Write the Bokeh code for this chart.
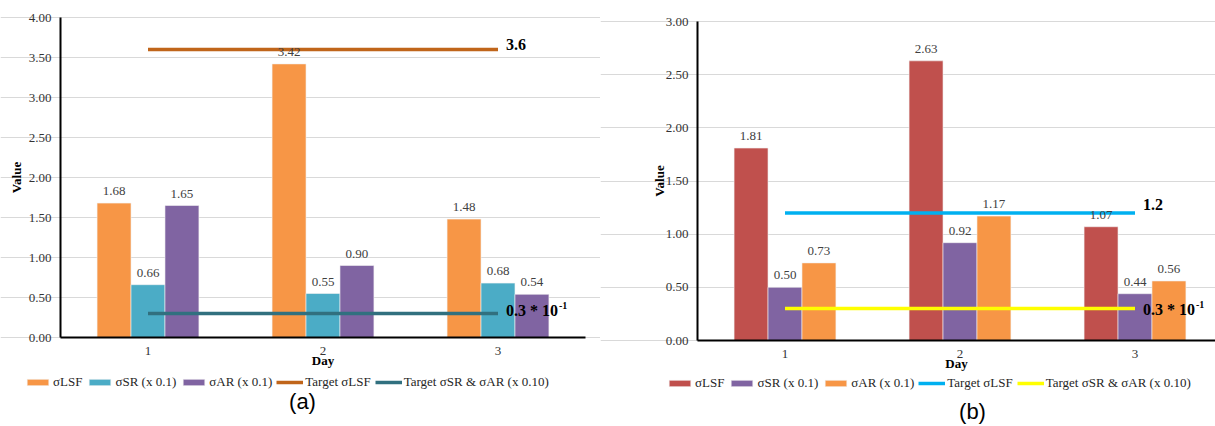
from bokeh.plotting import figure
from bokeh.layouts import row
from bokeh.models import (ColumnDataSource, FixedTicker, NumeralTickFormatter, Legend,
                          LegendItem, LabelSet, Label, Range1d)
from bokeh.core.properties import value
from bokeh.embed import file_html
from bokeh.resources import INLINE

days = [1, 2, 3]
day_labels = {1: "1", 2: "2", 3: "3"}
y_ticks_a = [0, 0.5, 1.0, 1.5, 2.0, 2.5, 3.0, 3.5, 4.0]
y_ticks_b = [0, 0.5, 1.0, 1.5, 2.0, 2.5, 3.0]

series_names = ["σLSF", "σSR (x 0.1)", "σAR (x 0.1)"]
a_lsf = [1.68, 3.42, 1.48]
a_sr = [0.66, 0.55, 0.68]
a_ar = [1.65, 0.90, 0.54]
a_target_lsf = 3.6
a_target_sr_ar = 0.3

b_lsf = [1.81, 2.63, 1.07]
b_sr = [0.50, 0.92, 0.44]
b_ar = [0.73, 1.17, 0.56]
b_target_lsf = 1.2
b_target_sr_ar = 0.3

target_names = ["Target σLSF", "Target σSR & σAR (x 0.10)"]

SERIF = "Liberation Serif"
BAR_W = 0.194
FIG_H = 424
CAT_PX = 175.0


def make_panel(width, axis_px, top_px, zero_px, y_top, yticks, series, colors, targets,
               target_colors, target_texts, caption, caption_px, legend_xy, ylabel_standoff,
               clip_right):
    # frame covers whole figure; axis_px is y-axis position measured from figure left
    x_start = 0.5 - axis_px / CAT_PX
    x_end = x_start + width / CAT_PX
    px_per_unit = (zero_px - top_px) / y_top
    y_end = y_top + top_px / px_per_unit
    y_start = -(FIG_H - zero_px) / px_per_unit
    x_stop = 3.5 if clip_right else x_end

    p = figure(width=width, height=FIG_H, output_backend="svg", toolbar_location=None,
               x_range=Range1d(x_start, x_end), y_range=Range1d(y_start, y_end),
               min_border=0)
    p.outline_line_color = None
    p.background_fill_color = "white"
    p.border_fill_color = "white"
    p.xgrid.grid_line_color = None
    p.ygrid.grid_line_color = "#D9D9D9"
    p.ygrid.grid_line_width = 1
    p.ygrid.ticker = FixedTicker(ticks=yticks)
    p.ygrid.bounds = (0.5, x_stop)

    p.yaxis.ticker = FixedTicker(ticks=yticks)
    p.yaxis.formatter = NumeralTickFormatter(format="0.00")
    p.yaxis.bounds = (0, y_top)
    p.yaxis.fixed_location = 0.5
    p.xaxis.ticker = FixedTicker(ticks=days)
    p.xaxis.major_label_overrides = day_labels
    p.xaxis.fixed_location = 0
    p.xaxis.bounds = (0.5, x_stop)
    for ax in (p.xaxis, p.yaxis):
        ax.axis_line_color = "black"
        ax.axis_line_width = 2
        ax.major_tick_line_color = None
        ax.minor_tick_line_color = None
        ax.major_tick_out = 0
        ax.major_tick_in = 0
        ax.major_label_text_font = SERIF
        ax.major_label_text_font_size = "13px"
        ax.major_label_text_color = "#333333"
        ax.axis_label_text_font = SERIF
        ax.axis_label_text_font_size = "13px"
        ax.axis_label_text_font_style = "bold"
        ax.axis_label_text_color = "black"
    p.yaxis.axis_label = "Value"
    p.yaxis.major_label_standoff = 9
    p.yaxis.axis_label_standoff = ylabel_standoff
    p.xaxis.axis_label = "Day"
    p.xaxis.major_label_standoff = 9
    p.xaxis.axis_label_standoff = -5

    items = []
    offsets = [-BAR_W, 0, BAR_W]
    for vals, col, off, name in zip(series, colors, offsets, series_names):
        src = ColumnDataSource(dict(x=[d + off for d in days], top=vals,
                                    lab=["%.2f" % v for v in vals]))
        r = p.vbar(x="x", top="top", bottom=0, width=BAR_W, source=src, fill_color=col,
                   line_color="#F2F2F2", line_width=0.6)
        items.append(LegendItem(label=name, renderers=[r]))
        ls = LabelSet(x="x", y="top", text="lab", source=src, text_align="center",
                      text_baseline="bottom", y_offset=8, text_font=value(SERIF),
                      text_font_size="13px", text_color="#404040")
        p.add_layout(ls)

    for tval, tcol, ttxt, tname in zip(targets, target_colors, target_texts, target_names):
        r = p.line(x=[days[0], days[-1]], y=[tval, tval], line_color=tcol, line_width=3.5)
        items.append(LegendItem(label=tname, renderers=[r]))
        main, sup, dy = ttxt
        p.add_layout(Label(x=days[-1], y=tval, text=main, x_offset=8, y_offset=dy,
                           text_baseline="middle", text_align="left", text_font=SERIF,
                           text_font_size="16px", text_font_style="bold", text_color="black"))
        if sup:
            p.add_layout(Label(x=days[-1], y=tval, text=sup, x_offset=61, y_offset=dy + 5,
                               text_baseline="middle", text_align="left", text_font=SERIF,
                               text_font_size="10px", text_font_style="bold",
                               text_color="black"))

    legend = Legend(items=items, orientation="horizontal", location=legend_xy,
                    label_text_font=SERIF, label_text_font_size="13px",
                    label_text_color="#262626", glyph_width=27, glyph_height=8,
                    label_standoff=2, spacing=4, padding=2, margin=0,
                    border_line_color=None, background_fill_alpha=0)
    p.add_layout(legend)

    cx = x_start + caption_px[0] / CAT_PX
    cy = (zero_px - caption_px[1]) / px_per_unit
    p.add_layout(Label(x=cx, y=cy, text=caption,
                       text_font="Liberation Sans", text_font_size="22px",
                       text_align="center", text_baseline="middle", text_color="black"))
    return p


# panel (a): figure at page x 0..600; y-axis at 60 px, y(4.0)=17 px, y(0)=337 px
pa = make_panel(600, 60, 17, 337, 4.0, y_ticks_a,
                [a_lsf, a_sr, a_ar], ["#F79646", "#4BACC6", "#8064A2"],
                [a_target_lsf, a_target_sr_ar], ["#C0651A", "#31707F"],
                [("3.6", None, 5), ("0.3 * 10", "-1", 3)], "(a)",
                (302, 401), (24, 34), 2, True)

# panel (b): figure at page x 600..1215; y-axis at 697 px, y(3.0)=21 px, y(0)=340 px
pb = make_panel(615, 97, 21, 340, 3.0, y_ticks_b,
                [b_lsf, b_sr, b_ar], ["#C0504D", "#8064A2", "#F79646"],
                [b_target_lsf, b_target_sr_ar], ["#00B0F0", "#FFFF00"],
                [("1.2", None, 8), ("0.3 * 10", "-1", -1)], "(b)",
                (372, 411), (66, 33), -4, False)

layout = row(pa, pb)
open("out.html", "w").write(file_html(layout, INLINE))
